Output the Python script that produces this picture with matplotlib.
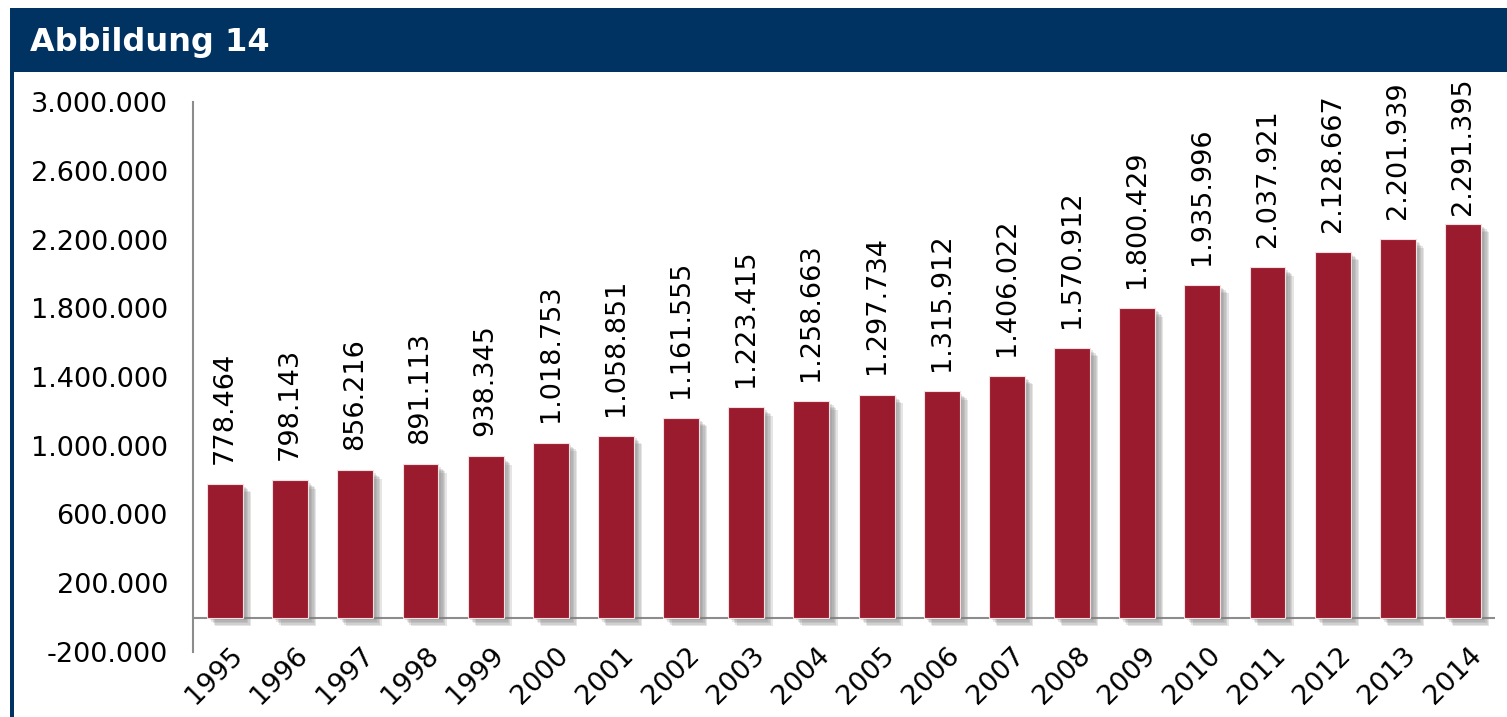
import matplotlib
matplotlib.use("Agg")
import matplotlib.pyplot as plt
import matplotlib.patheffects as pe
from matplotlib.patches import Rectangle
from matplotlib.transforms import ScaledTranslation

years = ["1995", "1996", "1997", "1998", "1999", "2000", "2001", "2002", "2003", "2004",
         "2005", "2006", "2007", "2008", "2009", "2010", "2011", "2012", "2013", "2014"]
values = [778464, 798143, 856216, 891113, 938345, 1018753, 1058851, 1161555, 1223415, 1258663,
          1297734, 1315912, 1406022, 1570912, 1800429, 1935996, 2037921, 2128667, 2201939, 2291395]
yticks = [-200000, 200000, 600000, 1000000, 1400000, 1800000, 2200000, 2600000, 3000000]
title = "Abbildung 14"

NAVY = "#003361"
BAR = "#9B1B2E"

def fmt(v):
    return f"{v:,}".replace(",", ".")

W, H = 1507, 717
fig = plt.figure(figsize=(W / 100, H / 100), dpi=100)
fig.patch.set_facecolor("white")

# header bar and left border
fig.add_artist(Rectangle((10 / W, 1 - 72 / H), 1 - 10 / W, 64 / H, transform=fig.transFigure,
                         facecolor=NAVY, edgecolor="none"))
fig.add_artist(Rectangle((10 / W, 0), 4 / W, 1 - 8 / H, transform=fig.transFigure,
                         facecolor=NAVY, edgecolor="none"))
fig.text(30 / W, 1 - 42 / H, title, color="white", fontsize=23, fontweight="bold",
         va="center", ha="left", family="DejaVu Sans")

ax = fig.add_axes([193 / W, 1 - 652 / H, 1302 / W, 550 / H])
x = list(range(len(years)))
shadow = [pe.SimplePatchShadow(offset=(d, -d), shadow_rgbFace="#808080", alpha=0.2) for d in (2, 3, 4, 5, 6)]
bars = ax.bar(x, values, width=0.55, color=BAR, edgecolor="#f3dfe2", linewidth=0.8, zorder=3)
for b in bars:
    b.set_path_effects(shadow + [pe.Normal()])

ax.set_ylim(-200000, 3000000)
ax.set_xlim(-0.49, len(years) - 0.51)
ax.axhline(0, color="#8c8c8c", linewidth=1.5, zorder=2)

for s in ("top", "right", "bottom"):
    ax.spines[s].set_visible(False)
ax.spines["left"].set_color("#8c8c8c")
ax.spines["left"].set_linewidth(1.5)

ax.set_yticks(yticks)
ax.set_yticklabels([fmt(t) for t in yticks])
ax.tick_params(axis="y", length=0, pad=18, labelsize=19.5)
ax.tick_params(axis="x", length=0, pad=0, labelsize=19.5)
ax.set_xticks(x)
ax.set_xticklabels(years, rotation=45, ha="right", rotation_mode="anchor")
off = ScaledTranslation(5 / 100, 10 / 100, fig.dpi_scale_trans)
for lab in ax.get_xticklabels():
    lab.set_transform(lab.get_transform() + off)

# value labels
gap = 117000
cap = 2342000
for xi, v in zip(x, values):
    yb = min(v + gap, cap)
    ax.text(xi, yb, fmt(v), rotation=90, ha="center", va="bottom", fontsize=19.5,
            color="black", clip_on=False, zorder=4)

fig.savefig("out.png", dpi=100)
